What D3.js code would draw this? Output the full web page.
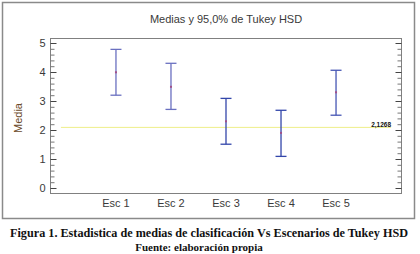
<!DOCTYPE html>
<html><head><meta charset="utf-8">
<script src="https://cdn.jsdelivr.net/npm/d3@7"></script>
<style>body{margin:0;background:#fff}svg{display:block}</style>
</head><body>
<svg id="c" width="420" height="254"></svg>
<script>
const categories = ["Esc 1","Esc 2","Esc 3","Esc 4","Esc 5"];
const means = [3.99, 3.49, 2.30, 1.90, 3.30];
const lower = [3.20, 2.71, 1.51, 1.09, 2.51];
const upper = [4.78, 4.30, 3.09, 2.68, 4.06];
const grandMean = 2.09;
const grandLabel = "2,1268";
const yTicks = [0,1,2,3,4,5];
const title = "Medias y 95,0% de Tukey HSD";
const yTitle = "Media";
const caption = "Figura 1. Estadistica de medias de clasificación Vs Escenarios de Tukey HSD";
const source = "Fuente: elaboración propia";

const svg = d3.select("#c");
const L = 50.5, R = 401.5, T = 38.5, B = 193.5;
const x = d3.scaleLinear().domain([-0.19, 6.19]).range([L, R]);
const y = d3.scaleLinear().domain([0, 5]).range([188, 43]);

svg.append("rect").attr("x",2.5).attr("y",2.5).attr("width",412).attr("height",216)
  .attr("fill","#fff").attr("stroke","#8a8a8a").attr("stroke-width",1.5);

svg.append("rect").attr("x",L).attr("y",T).attr("width",R-L).attr("height",B-T)
  .attr("fill","none").attr("stroke","#808080").attr("stroke-width",1);

const minor = d3.range(0, 5.001, 0.2).filter(v => Math.abs(v - Math.round(v)) > 1e-6);
function ticks(pos, gen, vals, size, col) {
  const g = svg.append("g").attr("transform",`translate(${pos},0)`)
    .call(gen(y).tickValues(vals).tickSize(size).tickFormat(""));
  g.select(".domain").remove();
  g.selectAll("line").attr("stroke",col);
}
ticks(L, d3.axisRight, yTicks, 6, "#444");
ticks(L, d3.axisRight, minor, 4, "#777");
ticks(R, d3.axisLeft, yTicks, 6, "#444");
ticks(R, d3.axisLeft, minor, 4, "#777");

svg.append("g").selectAll("text").data(yTicks).join("text")
  .attr("x",45.5).attr("y",d=>y(d)+4).attr("text-anchor","end")
  .attr("font-family","Liberation Sans, Arial, sans-serif").attr("font-size",11)
  .attr("fill","#3a3a3a").text(d=>d);

svg.append("g").selectAll("text").data(categories).join("text")
  .attr("x",(d,i)=>x(i+1)).attr("y",207).attr("text-anchor","middle")
  .attr("font-family","Liberation Sans, Arial, sans-serif").attr("font-size",11)
  .attr("fill","#3a3a3a").text(d=>d);

svg.append("text").attr("x",226).attr("y",23).attr("text-anchor","middle")
  .attr("font-family","Liberation Sans, Arial, sans-serif").attr("font-size",11)
  .attr("fill","#3a3a3a").text(title);

svg.append("text").attr("transform","translate(22,118) rotate(-90)").attr("text-anchor","middle")
  .attr("font-family","Liberation Sans, Arial, sans-serif").attr("font-size",11)
  .attr("fill","#6b4a2a").text(yTitle);

svg.append("line").attr("x1",x(0)).attr("x2",x(6)).attr("y1",y(grandMean)).attr("y2",y(grandMean))
  .attr("stroke","#eeee88").attr("stroke-width",1);
svg.append("text").attr("x",x(6)).attr("y",y(grandMean)-0.5).attr("text-anchor","end")
  .attr("font-family","Liberation Sans, Arial, sans-serif").attr("font-size",6.5).attr("font-weight","bold")
  .attr("fill","#111").text(grandLabel);

const colors = ["#6a70c0","#6a70c0","#3346aa","#3346aa","#4656b4"];
const eb = svg.append("g").selectAll("g").data(categories).join("g")
  .attr("stroke",(d,i)=>colors[i]).attr("stroke-width",1.3);
eb.append("line").attr("x1",(d,i)=>x(i+1)).attr("x2",(d,i)=>x(i+1))
  .attr("y1",(d,i)=>y(upper[i])).attr("y2",(d,i)=>y(lower[i]));
eb.append("line").attr("x1",(d,i)=>x(i+1)-5.5).attr("x2",(d,i)=>x(i+1)+5.5)
  .attr("y1",(d,i)=>y(upper[i])).attr("y2",(d,i)=>y(upper[i]));
eb.append("line").attr("x1",(d,i)=>x(i+1)-5.5).attr("x2",(d,i)=>x(i+1)+5.5)
  .attr("y1",(d,i)=>y(lower[i])).attr("y2",(d,i)=>y(lower[i]));
eb.append("rect").attr("stroke","none").attr("x",(d,i)=>x(i+1)-1).attr("y",(d,i)=>y(means[i])-1)
  .attr("width",2).attr("height",2).attr("fill","#a0508a");

svg.append("text").attr("x",209).attr("y",237).attr("text-anchor","middle")
  .attr("font-family","Liberation Serif, DejaVu Serif, serif").attr("font-weight","bold")
  .attr("font-size",12.2).attr("fill","#111").text(caption);
svg.append("text").attr("x",199).attr("y",251).attr("text-anchor","middle")
  .attr("font-family","Liberation Serif, DejaVu Serif, serif").attr("font-weight","bold")
  .attr("font-size",11).attr("fill","#111").text(source);
</script>
</body></html>
